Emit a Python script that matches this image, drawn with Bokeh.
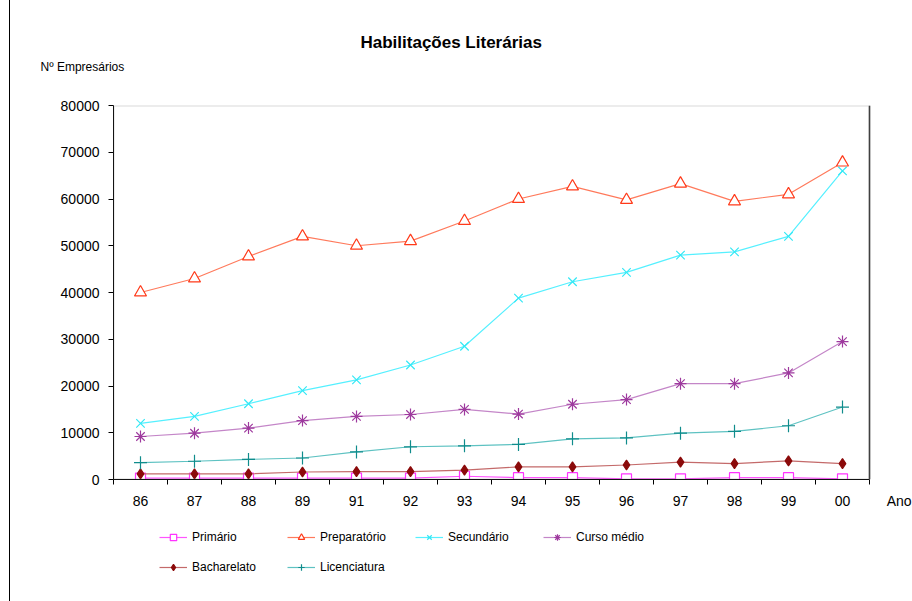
from bokeh.plotting import figure
from bokeh.layouts import column
from bokeh.models import (Range1d, LinearAxis, FixedTicker, Legend, LegendItem, Title,
                          BoxAnnotation, Span)
from bokeh.embed import file_html
from bokeh.resources import INLINE

# Years (1990 is absent from the series)
anos = ["86", "87", "88", "89", "91", "92", "93", "94", "95", "96", "97", "98", "99", "00"]

primario = [300, 300, 300, 300, 300, 300, 700, 400, 400, 150, 150, 400, 400, 150]
preparatorio = [40000, 43000, 47700, 52000, 50000, 51000, 55300, 60000, 62700, 59800, 63300, 59500, 61000, 67800]
secundario = [12000, 13500, 16200, 19000, 21300, 24500, 28500, 38800, 42300, 44300, 48000, 48700, 52000, 66000]
curso_medio = [9200, 9900, 11000, 12600, 13500, 13900, 15000, 14000, 16100, 17100, 20500, 20500, 22800, 29500]
bacharelato = [1200, 1200, 1200, 1600, 1700, 1700, 2000, 2700, 2700, 3100, 3700, 3400, 4000, 3400]
licenciatura = [3600, 3900, 4300, 4600, 5900, 7000, 7200, 7500, 8700, 8900, 9900, 10300, 11500, 15500]

y_ticks = [0, 10000, 20000, 30000, 40000, 50000, 60000, 70000, 80000]

FONT = "Liberation Sans"

# page geometry: main chart, then the legend strip
W = 902
TOP, FRAME_H, BOTTOM = 105, 374, 40
MAIN_H = TOP + FRAME_H + BOTTOM
LEG_H = 601 - MAIN_H

# each year occupies one unit slot; points sit in the middle of their slot
n = len(anos)
xc = [i + 0.5 for i in range(n)]
SLOT = 54            # px per year slot
FRAME_W = 799        # frame also holds the room for the "Ano" caption at the right
x_max = FRAME_W / SLOT

p = figure(
    x_range=Range1d(0, x_max), y_range=Range1d(0, 80000),
    frame_width=FRAME_W, frame_height=FRAME_H,
    min_border_left=103, min_border_right=0, min_border_top=TOP, min_border_bottom=BOTTOM,
    x_axis_location=None, output_backend="svg", toolbar_location=None,
    background_fill_color="white", border_fill_color="white",
)
p.grid.grid_line_color = None
p.outline_line_color = None

# box around the plotting area (left/bottom are covered by the axes)
p.add_layout(BoxAnnotation(left=0, right=n, bottom=0, top=80000,
                           fill_alpha=0, line_color="#808080", line_width=2))
p.add_layout(Span(location=n, dimension="height", line_color="#404040", line_width=1.5))

ya = p.yaxis[0]
ya.ticker = FixedTicker(ticks=y_ticks)
ya.axis_line_color = "black"
ya.major_tick_line_color = "black"
ya.major_tick_out = 5
ya.major_tick_in = 0
ya.minor_tick_line_color = None
ya.major_label_standoff = 9
ya.major_label_text_font = FONT
ya.major_label_text_font_size = "14px"
ya.major_label_text_color = "black"

# x axis: ticks between the years, labels at slot centres
edges = list(range(n + 1))
tick_axis = LinearAxis(
    ticker=FixedTicker(ticks=edges), bounds=(0, n),
    major_label_overrides={e: "" for e in edges},
    axis_line_color="black", major_tick_line_color="black", major_tick_out=5, major_tick_in=0,
    minor_tick_line_color=None, major_label_standoff=0, major_label_text_font_size="1px",
)
p.add_layout(tick_axis, "below")

ano_x = n + 0.55
label_axis = LinearAxis(
    ticker=FixedTicker(ticks=xc + [ano_x]),
    major_label_overrides={**{x: a for x, a in zip(xc, anos)}, ano_x: "Ano"},
    axis_line_color=None, major_tick_line_color=None, minor_tick_line_color=None,
    major_label_standoff=2, major_label_text_font=FONT, major_label_text_font_size="14px",
    major_label_text_color="black",
)
p.add_layout(label_axis, "below")

# captions above the plot: axis caption first (closest to the frame), then the title
p.add_layout(Title(text="Nº Empresários", align="left", offset=-73, standoff=64,
                   text_font=FONT, text_font_size="12px", text_font_style="normal",
                   text_color="black"), "above")
p.add_layout(Title(text="Habilitações Literárias", align="left", offset=247, standoff=-52,
                   text_font=FONT, text_font_size="17px", text_font_style="bold",
                   text_color="black"), "above")

series = [
    ("Primário", primario, "#FF55FF", "square", "#FF33FF", "white", 10),
    ("Preparatório", preparatorio, "#FF7A5C", "triangle", "#FF3A1A", "white", 12),
    ("Secundário", secundario, "#55F0FF", "x", "#33E8F5", None, 12),
    ("Curso médio", curso_medio, "#C486C8", "asterisk", "#9E3A9E", None, 12),
    ("Bacharelato", bacharelato, "#C46A6A", "diamond", "#8B0A0A", "#8B0A0A", 10),
    ("Licenciatura", licenciatura, "#5EC2C2", "cross", "#108C8C", None, 13),
]

# legend strip under the chart; its key renderers lie outside its (empty) view
leg = figure(width=W, height=LEG_H, x_range=Range1d(-2, -1), y_range=Range1d(-2, -1),
             x_axis_location=None, y_axis_location=None, min_border=0,
             output_backend="svg", toolbar_location=None,
             background_fill_color="white", border_fill_color="white")
leg.grid.grid_line_color = None
leg.outline_line_color = None

items = []
for name, vals, lcol, marker, mcol, fill, size in series:
    style = dict(marker=marker, size=size, line_color=mcol, line_width=1.2,
                 fill_color=fill if fill else mcol, fill_alpha=1 if fill else 0)
    p.line(xc, vals, line_color=lcol, line_width=1.2)
    p.scatter(xc, vals, **style)
    kl = leg.line(xc, vals, line_color=lcol, line_width=1.2)
    ks = leg.scatter(xc, vals, **style)
    items.append(LegendItem(label=name, renderers=[kl, ks]))

common = dict(orientation="horizontal", glyph_width=28, glyph_height=16, label_height=16,
              label_width=81, label_standoff=5, spacing=14, padding=0, margin=0,
              border_line_color=None, background_fill_alpha=0,
              label_text_font=FONT, label_text_font_size="12px", label_text_color="black")
leg.add_layout(Legend(items=items[:4], location=(46, LEG_H - 26), **common), "center")
leg.add_layout(Legend(items=items[4:], location=(46, LEG_H - 56), **common), "center")

page = column(p, leg, spacing=0,
              styles={"margin-left": "9px", "border-left": "1px solid black"})

open("out.html", "w").write(file_html(page, INLINE))
